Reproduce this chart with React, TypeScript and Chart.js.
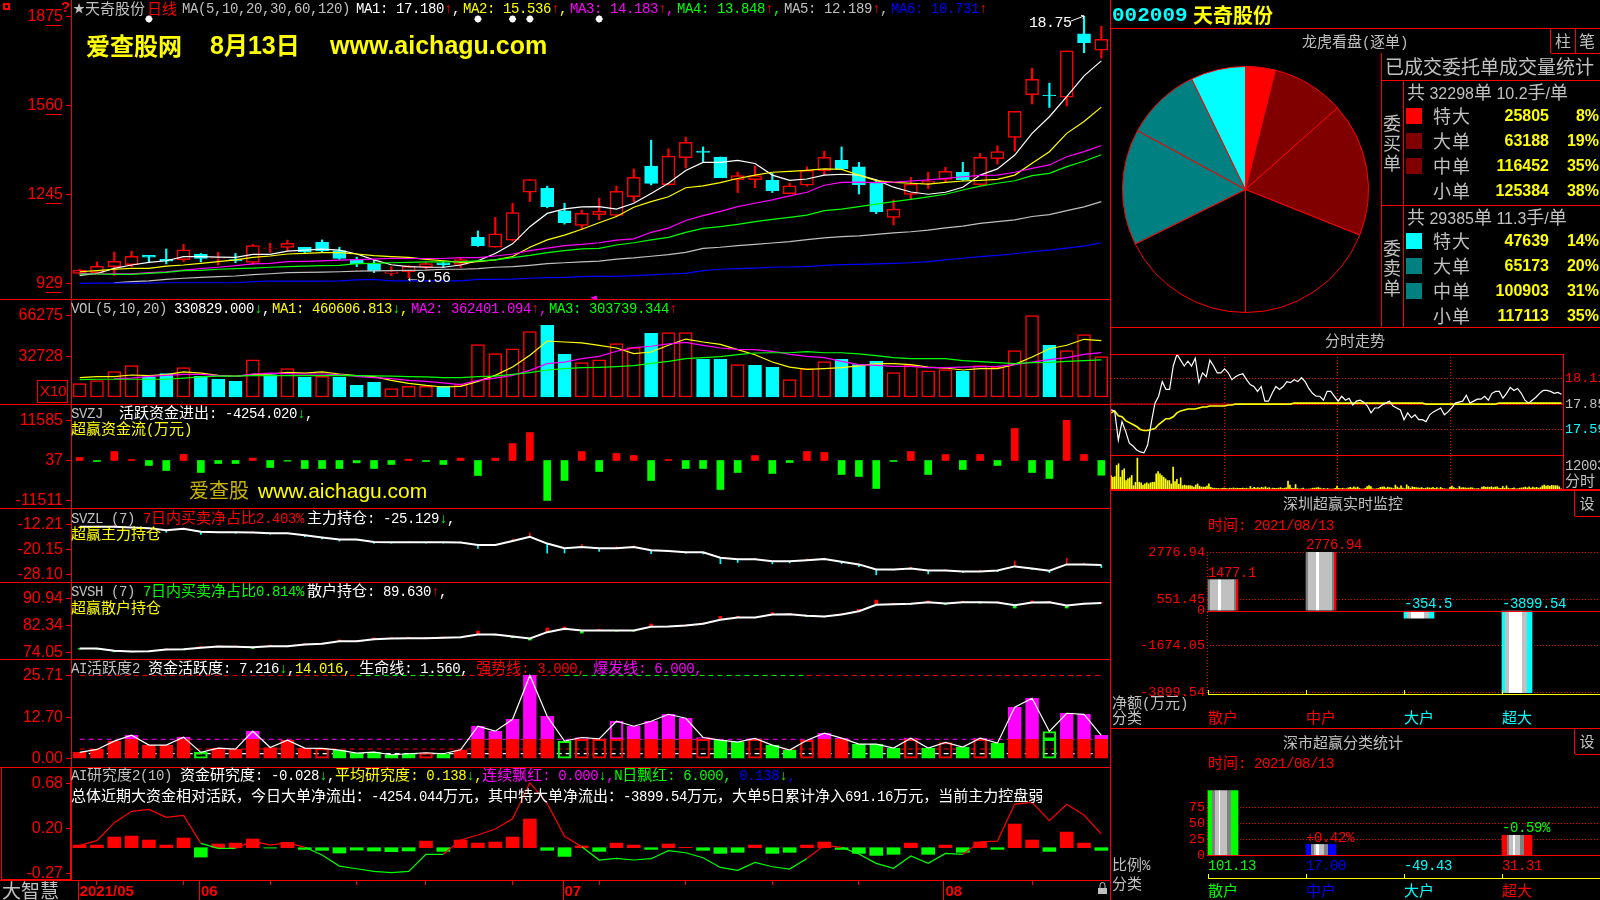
import React, { useEffect, useRef } from "react";
import { Chart, registerables } from "chart.js";
Chart.register(...registerables);

const MONO = '"Liberation Mono"';
const SANS = '"Liberation Sans"';
const CJK = '"Noto Sans CJK SC"';
const RED = "#ff0000";
const CYAN = "#00ffff";
const GREEN = "#00ff00";
const YELLOW = "#ffff00";
const MAGENTA = "#ff00ff";
const GREY = "#c0c0c0";
const WHITE = "#ffffff";
const BLUE = "#0000ff";

// ---------- daily data ----------
const dates = ["5/21","5/24","5/25","5/26","5/27","5/28","5/31","6/1","6/2","6/3","6/4","6/7","6/8","6/9","6/10","6/11","6/15","6/16","6/17","6/18","6/21","6/22","6/23","6/24","6/25","6/28","6/29","6/30","7/1","7/2","7/5","7/6","7/7","7/8","7/9","7/12","7/13","7/14","7/15","7/16","7/19","7/20","7/21","7/22","7/23","7/26","7/27","7/28","7/29","7/30","8/2","8/3","8/4","8/5","8/6","8/9","8/10","8/11","8/12","8/13"];
const monthIdx = [0, 7, 28, 50];
const monthLabels = ["2021/05", "06", "07", "08"];
const mondayIdx = [1, 6, 11, 16, 20, 25, 30, 35, 40, 45, 55];

const opens = [964,967,988,995,1028,1014,1013,1032,1017,1013,1003,1053,1056,1057,1074,1045,1013,998,964,970,986,1002,996,1092,1057,1082,1252,1266,1186,1134,1173,1170,1236,1345,1279,1375,1398,1377,1297,1297,1294,1247,1277,1329,1365,1342,1288,1163,1244,1285,1298,1323,1279,1371,1447,1598,1597,1589,1814,1756];
const highs = [979,1005,1040,1043,1028,1051,1067,1035,1039,1035,1067,1071,1082,1057,1083,1057,1022,1012,988,992,1005,1007,1020,1115,1163,1213,1297,1274,1213,1189,1231,1274,1335,1437,1406,1448,1413,1377,1324,1345,1319,1285,1342,1398,1413,1358,1296,1225,1305,1323,1341,1358,1390,1417,1539,1692,1639,1754,1877,1841];
const lows = [962,964,957,988,1002,998,1006,1005,994,1002,996,1039,1045,1035,1041,1014,988,967,956,949,979,986,985,1060,1057,1079,1219,1197,1139,1121,1154,1166,1218,1278,1277,1338,1357,1304,1251,1268,1251,1247,1274,1313,1333,1246,1176,1136,1227,1265,1288,1294,1277,1352,1398,1565,1553,1558,1747,1728];
const closes = [976,989,1007,1025,1022,1008,1048,1017,1018,1009,1063,1054,1071,1041,1045,1017,998,973,970,989,999,995,1013,1063,1105,1180,1297,1201,1144,1177,1184,1255,1305,1283,1380,1429,1393,1304,1311,1311,1258,1275,1330,1376,1335,1279,1182,1192,1281,1291,1326,1297,1376,1396,1539,1653,1595,1754,1783,1795];
const ma1 = [957,964,982,994,1003,1009,1024,1024,1022,1021,1032,1032,1043,1047,1050,1047,1033,1012,995,988,986,986,994,1009,1035,1069,1130,1177,1193,1200,1201,1192,1213,1248,1284,1329,1358,1358,1365,1354,1313,1294,1299,1313,1316,1313,1296,1270,1253,1245,1252,1270,1313,1335,1384,1461,1520,1591,1665,1718];
const ma2 = [970,974,979,982,982,990,994,1000,1006,1012,1021,1026,1033,1035,1038,1038,1033,1027,1024,1021,1014,1009,1003,1006,1012,1024,1057,1083,1100,1121,1144,1166,1199,1219,1236,1268,1275,1286,1301,1313,1323,1326,1330,1335,1333,1313,1293,1287,1284,1281,1287,1292,1294,1298,1313,1355,1396,1461,1503,1554];
const ma3 = [964,962,963,963,967,970,976,981,986,992,998,1000,1006,1007,1009,1011,1013,1015,1018,1017,1017,1017,1020,1020,1026,1033,1045,1054,1063,1067,1073,1082,1087,1110,1125,1152,1169,1184,1201,1213,1225,1239,1252,1277,1287,1288,1286,1288,1292,1296,1301,1307,1312,1313,1323,1337,1349,1378,1396,1418];
const ma4 = [962,962,961,961,964,968,974,975,979,981,983,986,988,990,992,993,999,1000,1002,1003,1005,1005,1006,1009,1012,1020,1028,1038,1045,1051,1053,1065,1073,1083,1092,1110,1124,1130,1138,1148,1156,1163,1171,1187,1192,1201,1210,1219,1227,1236,1245,1260,1274,1284,1293,1311,1319,1343,1362,1385];
const ma5 = [null,null,931,935,938,943,947,950,953,955,960,963,967,968,969,970,972,973,974,975,976,979,979,981,986,988,993,999,1002,1005,1008,1015,1019,1025,1031,1039,1053,1057,1063,1067,1072,1077,1084,1090,1095,1097,1103,1108,1112,1118,1126,1132,1142,1148,1154,1166,1173,1187,1200,1219];
const ma6 = [929,930,930,930,930,931,931,931,931,931,935,937,937,937,937,938,941,943,938,938,938,938,938,943,943,944,947,949,950,953,954,954,956,959,962,964,974,979,981,983,986,987,988,993,995,996,998,1000,1002,1006,1012,1018,1024,1028,1034,1041,1047,1054,1061,1073];
const starIdx = [4, 23, 25, 26, 30];
const starLevel = 1867;

const volumes = [10900,13400,20700,25600,16400,19100,24000,16900,14500,12800,30500,18300,23200,16100,16900,16100,9500,12000,6800,8700,8700,8700,10100,42800,35500,39500,53500,58600,34900,28100,30500,43600,40400,52100,52600,52600,30800,30800,26500,25900,24300,14200,23200,28900,30800,26500,29200,19900,25900,21500,22400,21000,25600,24500,37900,66500,42300,37900,51000,33000];
const volDownIdx = [4,5,7,8,9,11,13,15,16,17,21,27,28,33,36,37,39,40,44,45,46,51,56];
const volMa1 = [15800,16600,16600,18000,17500,18300,20500,19600,17700,16900,18500,18800,20200,19600,20500,18800,17500,16600,13600,11200,9500,8200,8700,12800,17700,24500,34100,45800,45000,44200,42300,40100,35500,36800,42300,47400,45000,43100,38700,34600,28600,24500,22600,23200,24000,25400,27300,27300,26500,24500,23700,22100,23200,23200,26700,32700,39500,42300,47200,46100];
const volMa2 = [null,null,15000,15500,16900,17700,18500,18500,17500,16900,18800,19600,19100,18800,18800,18300,16900,15800,15000,13600,12800,11500,10100,13600,15500,17700,21800,27300,28600,31400,33300,37400,40400,41500,43400,44700,42300,40100,39000,38700,37400,34900,33300,32200,29200,26500,25900,25100,25100,24000,24000,24500,24800,25100,26500,28600,30500,32200,34900,36240];
const volMa3 = [14200,14500,14500,14500,14500,14500,15500,16400,17000,17000,17500,17500,17500,17500,17500,17700,17500,17200,17000,16600,16400,15800,15800,16600,17000,18500,19900,22100,23200,24000,24300,24800,25600,27500,29200,31400,32200,33000,34600,36000,36200,36200,37100,36200,36200,35200,33800,32200,31400,31400,31400,29700,28900,28100,27300,28100,28400,29200,29700,30370];

const svzj = [870,-290,2600,290,-1440,-2890,1730,-3460,-870,-870,670,-2020,-190,-2310,-2310,-2310,-670,-2310,-1150,380,-290,-1150,670,-4330,670,4910,8080,-11540,-5770,2600,-3170,2020,1440,-5770,290,-2310,-2310,-8370,-3460,1440,-3750,-580,2600,2310,-4040,-4620,-8080,-290,2600,-4040,1730,-2600,1730,-1440,9235,-3460,-5190,11585,1730,-4254];
const svzl = [-13.06,-13.06,-13.06,-13.27,-13.48,-14.12,-13.69,-14.65,-14.75,-14.75,-14.86,-15.07,-15.07,-15.70,-16.45,-17.08,-17.08,-17.82,-17.93,-17.93,-17.93,-17.93,-18.03,-18.78,-18.78,-17.51,-16.23,-18.35,-19.83,-19.41,-19.83,-19.83,-19.41,-20.47,-20.68,-21.11,-21.11,-22.80,-23.33,-23.33,-23.96,-23.96,-23.65,-23.22,-24.07,-24.92,-26.51,-26.51,-26.19,-26.82,-26.82,-27.14,-27.14,-26.82,-25.55,-26.19,-26.93,-24.92,-24.92,-25.13];
const svzlDelta = [.1,.2,.4,.1,-.1,-.7,.2,-.8,-.1,-.4,.3,-.3,-.1,-.5,-.4,-.5,-.2,-.5,-.3,.2,-.3,-.3,.2,-1.1,.2,.6,1.3,-3.0,-1.5,.8,-1.0,.5,.4,-1.1,.3,-.3,-.5,-1.9,-1.0,.4,-.8,-.5,.5,.3,-.6,-.7,-1.7,-.2,.4,-1.1,.3,-.4,.4,-.4,1.7,-.4,-.6,2.0,.4,-.8];
const svsh = [75.21,75.21,74.47,74.26,74.37,74.89,75.0,75.42,75.84,75.74,75.63,75.95,75.95,76.48,76.69,77.53,77.53,78.16,78.38,78.48,78.48,78.59,78.80,79.64,79.64,79.01,78.38,80.38,81.44,80.91,80.91,80.91,80.91,82.07,82.17,82.49,83.02,84.28,85.02,85.02,85.97,86.08,85.55,85.34,85.97,87.03,89.03,89.24,89.35,89.88,89.45,89.88,89.88,89.77,88.93,89.77,89.88,88.82,89.35,89.63];
const svshDelta = [-.2,-.2,-.3,-.1,0,.2,-.2,.4,.2,.3,-.4,.3,-.2,.3,.2,.4,.2,.4,.3,.3,.2,.3,-.2,1.1,-.2,-.4,-.5,1.3,.6,-.8,.4,-.2,-.2,.9,.1,.2,.3,1.1,.4,-.1,.6,.2,-.2,-.1,.3,.6,1.5,.3,-.1,.4,-.3,.3,-.3,.2,-.9,.5,.2,-.8,.2,.1];
const activity = [1.95,2.87,5.43,7.27,4.20,4.20,6.66,1.95,3.28,2.97,8.50,3.48,5.73,3.28,3.17,2.66,1.74,2.05,1.23,1.54,1.84,1.54,2.76,10.04,8.50,12.19,25.71,13.11,5.43,6.55,6.14,11.57,10.04,11.57,13.72,12.49,6.55,5.73,5.12,6.25,4.20,2.66,5.73,7.88,6.35,4.51,4.51,3.28,6.35,3.28,5.02,3.58,6.35,4.81,15.87,18.64,8.40,14.03,13.72,7.22];
const activityKinds = "rrrrrrrGrrrrrrRgggggRgrrrrrrGRRRrrrrRggRggRrrgggRgRgRgrrGrrr";
const burstLine = 6;
const strongLine = 3;
const lifeLine = 1.56;
const ceilingLine = 25.71;
const ceilingGreenSpans = [[16, 22], [28, 42]];
const research = [.028,.028,.113,.123,.081,.028,.102,-.099,.039,.049,.092,-.004,.056,-.018,-.028,-.056,-.025,-.035,-.042,-.035,.070,-.039,.081,.049,.060,.113,.303,-.028,-.092,.018,-.039,.049,.028,-.018,.039,.004,-.028,-.060,-.049,.028,-.060,-.049,.028,.060,-.018,-.060,-.081,-.070,.049,-.070,.028,-.049,.060,-.018,.250,.081,-.039,.165,.049,-.028];
const researchTrend = [.025,.074,.264,.384,.405,.320,.341,.046,-.007,-.007,.070,.028,.053,.004,-.077,-.194,-.222,-.250,-.264,-.250,-.070,-.070,.081,.134,.197,.306,.686,.468,.120,.011,-.130,-.113,-.130,-.116,-.032,-.053,-.106,-.208,-.239,-.155,-.201,-.225,-.113,.025,.004,-.067,-.165,-.218,-.088,-.165,-.060,-.070,.063,.070,.461,.479,.285,.458,.345,.144];

// ---------- pie and table ----------
const pieLabels = ["买特大","买大单","买中单","买小单","卖小单","卖中单","卖大单","卖特大"];
const pieValues = [25805,63188,116452,125384,117113,100903,65173,47639];
const pieColors = [RED,"#800000","#800000","#000000","#000000","#008080","#008080",CYAN];
const orderKinds = ["特大","大单","中单","小单"];
const buyVolumes = ["25805","63188","116452","125384"];
const buyPcts = ["8%","19%","35%","38%"];
const sellVolumes = ["47639","65173","100903","117113"];
const sellPcts = ["14%","20%","31%","35%"];

// ---------- intraday ----------
const intradayPrice = [17.79,17.78,17.48,17.67,17.57,17.45,17.42,17.38,17.36,17.35,17.43,17.66,17.86,17.93,18.08,18.00,18.00,18.24,18.36,18.30,18.24,18.29,18.24,18.32,18.07,18.17,18.13,18.30,18.24,18.17,18.17,18.21,18.17,18.10,18.13,18.15,18.16,18.10,18.05,18.03,17.98,18.03,17.88,17.88,17.96,18.03,18.00,18.03,18.08,18.07,18.10,18.08,18.12,18.08,18.01,17.96,17.93,17.93,17.89,17.98,17.98,17.93,17.88,17.93,17.89,17.91,17.84,17.88,17.89,17.87,17.83,17.76,17.81,17.81,17.84,17.86,17.88,17.83,17.81,17.79,17.69,17.76,17.71,17.74,17.69,17.69,17.67,17.74,17.77,17.79,17.81,17.74,17.77,17.81,17.86,17.87,17.88,17.94,17.86,17.88,17.90,17.90,17.93,17.89,17.96,17.98,17.98,17.91,17.96,18.02,17.99,18.01,17.96,17.89,17.86,17.89,17.92,17.96,17.99,17.99,17.98,17.96,17.97,17.95];
const intradayAvg = [17.76,17.78,17.73,17.72,17.68,17.66,17.64,17.62,17.59,17.58,17.58,17.59,17.60,17.64,17.67,17.70,17.70,17.72,17.76,17.78,17.79,17.80,17.80,17.80,17.81,17.82,17.82,17.83,17.83,17.83,17.83,17.83,17.84,17.84,17.85,17.85,17.85,17.85,17.85,17.85,17.85,17.85,17.85,17.85,17.85,17.85,17.85,17.85,17.85,17.85,17.86,17.86,17.86,17.86,17.86,17.86,17.86,17.86,17.86,17.86,17.86,17.86,17.86,17.86,17.86,17.86,17.86,17.86,17.86,17.86,17.86,17.86,17.86,17.86,17.86,17.86,17.86,17.86,17.86,17.86,17.86,17.86,17.86,17.86,17.86,17.86,17.85,17.85,17.85,17.85,17.85,17.85,17.85,17.85,17.85,17.85,17.85,17.85,17.85,17.85,17.85,17.85,17.85,17.85,17.85,17.85,17.86,17.86,17.86,17.86,17.86,17.86,17.86,17.86,17.86,17.86,17.86,17.86,17.86,17.86,17.86,17.86,17.86,17.86];
const intradayVol = [4800,4200,4400,8400,9000,4200,6600,7200,3000,3600,4000,4800,1200,2400,11000,2400,2200,1400,1800,2200,1800,2200,2400,2400,5400,6200,5400,4800,4200,3600,3000,3000,1800,7800,2600,3400,1700,4000,1200,1400,1200,1200,1200,1000,700,1400,1800,1000,700,700,700,1000,1800,600,300,300,200,200,100,200,300,200,100,300,200,400,200,300,200,200,300,200,300,100,900,200,600,300,500,300,600,400,800,300,500,100,300,200,200,300,500,200,300,400,2800,1400,300,200,1600,200,0,100,300,0,0,0,100,300,300,400,500,300,100,200,0,200,0,0,0,200,1000,200,100,300,100,100,400,600,300,800,400,700,200,0,0,300,900,1200,900,100,0,100,200,600,700,800,300,700,500,400,200,1400,700,300,1100,300,100,1500,900,300,800,600,500,400,300,500,200,300,500,400,300,600,200,500,100,600,200,100,0,0,600,1000,500,200,100,900,400,500,400,300,300,500,400,100,100,200,0,700,900,600,700,600,800,500,700,800,300,200,900,300,1100,300,100,200,400,100,100,300,400,500,700,400,800,300,700,400,600,300,500,1100,1400,1000,1200,1000,1300,1200,1200,1200,800,100];
const intradayTicks = [18.11, 17.85, 17.59];
const intradayTickColors = [RED, GREY, CYAN];
const intradayGrid = [60, 120, 180];
const minutesPerReading = 1.945;

// ---------- net amount / ratio ----------
const traderKinds = ["散户","中户","大户","超大"];
const netAmount = [1477.1, 2776.94, -354.5, -3899.54];
const netTicks = [2776.94, 551.45, 0, -1674.05, -3899.54];
const ratioValues = [101.13, 17.0, -49.43, 31.31];
const ratioTicks = [75, 50, 25, 0];

const netBands = [
  [[.06,"#808080"],[.34,GREY],[.45,WHITE],[.87,GREY],[.94,"#808080"],[1,RED]],
  [[.06,"#808080"],[.34,GREY],[.45,WHITE],[.87,GREY],[.94,"#808080"],[1,RED]],
  [[.1,CYAN],[.23,GREY],[.67,WHITE],[.84,GREY],[1,CYAN]],
  [[.11,CYAN],[.24,GREY],[.67,WHITE],[.83,GREY],[1,CYAN]],
];
const ratioBands = [
  [[.13,GREEN],[.25,"#808080"],[.37,GREY],[.41,WHITE],[.62,GREY],[.77,"#808080"],[1,GREEN]],
  [[.18,BLUE],[.27,"#808080"],[.33,GREY],[.43,WHITE],[.6,GREY],[.74,"#808080"],[1,BLUE]],
  [[1,CYAN]],
  [[.18,RED],[.25,"#808080"],[.38,GREY],[.45,WHITE],[.6,GREY],[.73,"#808080"],[1,RED]],
];

// ---------- chart helpers ----------
const baseOptions = (scales: any) => ({
  responsive: false,
  animation: false,
  devicePixelRatio: 1,
  events: [],
  layout: { padding: 0, autoPadding: false },
  plugins: { legend: { display: false }, tooltip: { enabled: false } },
  scales,
});
const xHidden = { type: "category", labels: dates, offset: true, display: false };
const fixedTicks = (vals: number[]) => (s: any) => {
  s.ticks = vals.map((value) => ({ value }));
};
const yLeft = (min: number, max: number, vals: number[], labels: string[]) => ({
  type: "linear",
  min,
  max,
  position: "left",
  afterFit: (s: any) => {
    s.width = 71;
    s.paddingTop = 0;
    s.paddingBottom = 0;
  },
  afterBuildTicks: fixedTicks(vals),
  ticks: {
    autoSkip: false,
    color: RED,
    padding: 3,
    font: { family: SANS, size: 16 },
    callback: (v: number) => labels[vals.indexOf(v)] ?? "",
  },
  grid: { drawOnChartArea: false, color: RED, tickLength: 5 },
  border: { color: RED },
});
const lineDs = (data: any[], color: string, width = 1.2, extra: any = {}) => ({
  type: "line",
  data,
  borderColor: color,
  borderWidth: width,
  pointRadius: 0,
  tension: 0,
  order: 0,
  ...extra,
});
const isUp = (i: number) => closes[i] >= opens[i];

const mainConfig = () => ({
  type: "bar",
  data: {
    labels: dates,
    datasets: [
      lineDs(ma6, BLUE),
      lineDs(ma5, GREY),
      lineDs(ma4, GREEN),
      lineDs(ma3, MAGENTA),
      lineDs(ma2, YELLOW),
      lineDs(ma1, WHITE),
      {
        type: "line",
        showLine: false,
        data: dates.map((_, i) => (starIdx.includes(i) ? starLevel : null)),
        pointStyle: "star",
        pointRadius: 3.5,
        pointBorderColor: WHITE,
        pointBorderWidth: 2,
        order: 0,
      },
      {
        data: dates.map((_, i) => [opens[i], closes[i]]),
        barThickness: 13,
        grouped: false,
        borderSkipped: false,
        borderWidth: 1.5,
        backgroundColor: dates.map((_, i) => (isUp(i) ? "#000000" : CYAN)),
        borderColor: dates.map((_, i) => (isUp(i) ? RED : CYAN)),
        order: 2,
      },
      {
        data: dates.map((_, i) => [lows[i], highs[i]]),
        barThickness: 1.5,
        grouped: false,
        backgroundColor: dates.map((_, i) => (isUp(i) ? RED : CYAN)),
        order: 3,
      },
    ],
  },
  options: baseOptions({ x: xHidden, y: yLeft(873.4, 1934.1, [1875, 1560, 1245, 929], ["1875", "1560", "1245", "929"]) }),
});

const volConfig = () => ({
  type: "bar",
  data: {
    labels: dates,
    datasets: [
      lineDs(volMa3, GREEN),
      lineDs(volMa2, MAGENTA),
      lineDs(volMa1, YELLOW),
      {
        data: volumes,
        barThickness: 13,
        grouped: false,
        borderSkipped: false,
        borderWidth: 1.5,
        backgroundColor: dates.map((_, i) => (volDownIdx.includes(i) ? CYAN : "#000000")),
        borderColor: dates.map((_, i) => (volDownIdx.includes(i) ? CYAN : RED)),
        order: 2,
      },
    ],
  },
  options: baseOptions({ x: xHidden, y: yLeft(-5726, 80164, [66275, 32728], ["66275", "32728"]) }),
});

const svzjConfig = () => ({
  type: "bar",
  data: {
    labels: dates,
    datasets: [
      {
        data: svzj,
        barThickness: 7,
        backgroundColor: svzj.map((v) => (v >= 0 ? RED : GREEN)),
      },
    ],
  },
  options: baseOptions({ x: xHidden, y: yLeft(-13710, 16310, [11585, 37, -11511], ["11585", "37", "-11511"]) }),
});

const holdingConfig = (
  values: number[],
  deltas: number[],
  upColor: string,
  downColor: string,
  thickness: number,
  min: number,
  max: number,
  vals: number[],
  labels: string[],
) => ({
  type: "bar",
  data: {
    labels: dates,
    datasets: [
      lineDs(values, WHITE, 2),
      {
        data: values.map((v, i) => [v, v + deltas[i]]),
        barThickness: thickness,
        grouped: false,
        backgroundColor: deltas.map((d) => (d >= 0 ? upColor : downColor)),
        order: 2,
      },
    ],
  },
  options: baseOptions({ x: xHidden, y: yLeft(min, max, vals, labels) }),
});

const kindMain = (k: string) => (k === "r" || k === "R" ? RED : GREEN);
const isHollow = (k: string) => k === "R" || k === "G";
const kinds = activityKinds.split("");

const activityConfig = () => ({
  type: "bar",
  data: {
    labels: dates,
    datasets: [
      lineDs(activity, WHITE, 1.2),
      lineDs(dates.map(() => lifeLine), WHITE, 1.2, { borderDash: [5, 4], order: 3 }),
      lineDs(dates.map(() => strongLine), RED, 1, { borderDash: [5, 4], order: 3 }),
      lineDs(dates.map(() => burstLine), MAGENTA, 1, { borderDash: [5, 4], order: 3 }),
      lineDs(dates.map(() => ceilingLine), RED, 1, {
        borderDash: [5, 4],
        order: 3,
        segment: {
          borderColor: (c: any) =>
            ceilingGreenSpans.some(([a, b]) => c.p0DataIndex >= a && c.p0DataIndex < b) ? GREEN : RED,
        },
      }),
      {
        data: activity.map((v) => [0, Math.min(v, burstLine)]),
        barThickness: 13,
        grouped: false,
        borderSkipped: false,
        borderWidth: 1.5,
        backgroundColor: kinds.map((k) => (isHollow(k) ? "transparent" : kindMain(k))),
        borderColor: kinds.map((k) => kindMain(k)),
        order: 2,
      },
      {
        data: activity.map((v) => (v > burstLine ? [burstLine, v] : null)),
        barThickness: 13,
        grouped: false,
        borderSkipped: false,
        borderWidth: 1.5,
        backgroundColor: kinds.map((k) => (isHollow(k) ? "transparent" : MAGENTA)),
        borderColor: kinds.map((k) => (k === "G" ? GREEN : MAGENTA)),
        order: 2,
      },
    ],
  },
  options: baseOptions({ x: xHidden, y: yLeft(-2.55, 30.47, [25.71, 12.7, 0], ["25.71", "12.70", "0.00"]) }),
});

const monthLinePlugin = {
  id: "monthLines",
  afterDraw(chart: any) {
    const { ctx, chartArea, scales, height } = chart;
    ctx.save();
    ctx.strokeStyle = RED;
    ctx.lineWidth = 1;
    monthIdx.forEach((i) => {
      const x = Math.round(scales.x.getPixelForValue(i)) - 1.5;
      ctx.beginPath();
      ctx.moveTo(x, chartArea.bottom);
      ctx.lineTo(x, height);
      ctx.stroke();
    });
    ctx.restore();
  },
};

const researchConfig = () => ({
  type: "bar",
  data: {
    labels: dates,
    datasets: [
      lineDs(researchTrend, RED, 1.2, {
        segment: { borderColor: (c: any) => (c.p1.parsed.y >= 0 ? RED : GREEN) },
      }),
      {
        data: research,
        barThickness: 13,
        backgroundColor: research.map((v) => (v >= 0 ? RED : GREEN)),
        order: 2,
      },
    ],
  },
  options: baseOptions({
    x: {
      type: "category",
      labels: dates,
      offset: true,
      afterFit: (s: any) => {
        s.height = 20;
        s.paddingLeft = 0;
        s.paddingRight = 0;
      },
      grid: {
        offset: false,
        drawOnChartArea: false,
        tickLength: 5,
        tickColor: (c: any) => (mondayIdx.includes(c.index) ? RED : "transparent"),
      },
      border: { color: RED },
      ticks: {
        autoSkip: false,
        maxRotation: 0,
        minRotation: 0,
        align: "start",
        color: RED,
        padding: -2,
        font: { family: SANS, size: 15, weight: "bold" },
        callback: (_: any, i: number) => {
          const m = monthIdx.indexOf(i);
          return m >= 0 ? monthLabels[m] : "";
        },
      },
    },
    y: yLeft(-0.341, 0.852, [0.68, 0.2, -0.27], ["0.68", "0.20", "-0.27"]),
  }),
  plugins: [monthLinePlugin],
});

const pieConfig = () => ({
  type: "pie",
  data: {
    labels: pieLabels,
    datasets: [{ data: pieValues, backgroundColor: pieColors, borderColor: RED, borderWidth: 1 }],
  },
  options: { ...baseOptions({}), radius: "100%" },
});

const intradayConfig = () => ({
  type: "bar",
  data: {
    datasets: [
      lineDs(intradayPrice.map((y, i) => ({ x: i * minutesPerReading, y })), WHITE, 1.2),
      lineDs(intradayAvg.map((y, i) => ({ x: i * minutesPerReading, y })), YELLOW, 1.6),
      lineDs([{ x: 0, y: 17.85 }, { x: 240, y: 17.85 }], RED, 1, { order: 1 }),
      {
        data: intradayVol.map((y, i) => ({ x: i, y })),
        yAxisID: "yv",
        barThickness: 1,
        backgroundColor: YELLOW,
        order: 2,
      },
    ],
  },
  options: baseOptions({
    x: {
      type: "linear",
      min: 0,
      max: 240,
      offset: false,
      afterBuildTicks: fixedTicks(intradayGrid),
      afterFit: (s: any) => {
        s.height = 0;
        s.paddingLeft = 0;
        s.paddingRight = 0;
      },
      ticks: { display: false },
      grid: { offset: false, color: RED, drawTicks: false, tickLength: 0 },
      border: { display: false, dash: [1, 2] },
    },
    y: {
      type: "linear",
      position: "right",
      min: 16.98,
      max: 18.363,
      afterBuildTicks: fixedTicks(intradayTicks),
      afterFit: (s: any) => {
        s.width = 37;
        s.paddingTop = 0;
        s.paddingBottom = 0;
      },
      ticks: {
        autoSkip: false,
        padding: 2,
        font: { family: MONO, size: 13.5 },
        color: (c: any) => intradayTickColors[intradayTicks.indexOf(c.tick.value)] ?? GREY,
        callback: (v: number) => v.toFixed(2),
      },
      grid: { color: RED, drawTicks: false, tickLength: 0 },
      border: { color: RED, dash: [1, 2] },
    },
    yv: { type: "linear", display: false, min: 0, max: 48076 },
  }),
});

const bandFill = (bands: any[], halfWidth: number) => (c: any) => {
  const chart = c.chart;
  const band = bands[c.dataIndex];
  if (!chart.chartArea || !band) return band ? band[band.length - 1][1] : RED;
  const px = chart.scales.x.getPixelForValue(c.dataIndex);
  const g = chart.ctx.createLinearGradient(px - halfWidth, 0, px + halfWidth, 0);
  let prev = 0;
  band.forEach(([end, color]: any) => {
    g.addColorStop(prev, color);
    g.addColorStop(end, color);
    prev = end;
  });
  return g;
};

const sideAxis = (min: number, max: number, vals: number[], fmt: (v: number) => string) => ({
  type: "linear",
  min,
  max,
  position: "left",
  afterBuildTicks: fixedTicks(vals),
  afterFit: (s: any) => {
    s.width = 96;
    s.paddingTop = 0;
    s.paddingBottom = 0;
  },
  ticks: { autoSkip: false, color: RED, padding: 2, font: { family: MONO, size: 13.5 }, callback: fmt },
  grid: { color: (c: any) => (c.tick && c.tick.value === 0 ? "transparent" : RED), drawTicks: false, tickLength: 0 },
  border: { display: false, dash: [1, 2] },
});
const sideX = { type: "linear", display: false, min: -0.163, max: 3.847, offset: false };

const netConfig = () => ({
  type: "bar",
  data: {
    datasets: [
      {
        data: netAmount.map((y, x) => ({ x, y })),
        barThickness: 30,
        backgroundColor: bandFill(netBands, 15),
      },
    ],
  },
  options: baseOptions({
    x: sideX,
    y: sideAxis(-4246, 4313, netTicks, (v) => (v === 0 ? "0" : v.toFixed(2))),
  }),
});

const ratioConfig = () => ({
  type: "bar",
  data: {
    datasets: [
      {
        data: ratioValues.map((y, x) => ({ x, y: y > 0 ? y : null })),
        barThickness: 30,
        backgroundColor: bandFill(ratioBands, 15),
      },
    ],
  },
  options: baseOptions({ x: sideX, y: sideAxis(-15.16, 117.7, ratioTicks, (v) => String(v)) }),
});

// ---------- drawing components ----------
function ChartBox({ left, top, width, height, build }: any) {
  const ref = useRef<HTMLCanvasElement | null>(null);
  useEffect(() => {
    const chart = new Chart(ref.current as any, build());
    return () => chart.destroy();
  }, []);
  return <canvas ref={ref} width={width} height={height} style={{ position: "absolute", left, top, width, height, display: "block" }} />;
}

const CJK_RE = /([\u2E80-\u9FFF\u3000-\u303F\uFF00-\uFFEF★]+)/;

function T({ x, y, t, c = GREY, s = 14, cs = 15, f = MONO, a = "l", ls = -0.4, cls = 0, w }: any) {
  const parts: any[] = typeof t === "string" ? [[t, c]] : t;
  const tr = a === "l" ? "translateY(-50%)" : a === "c" ? "translate(-50%,-50%)" : "translate(-100%,-50%)";
  return (
    <div style={{ position: "absolute", left: x, top: y, transform: tr, whiteSpace: "pre", lineHeight: 1, fontWeight: w }}>
      {parts.map(([txt, col]: any, i: number) => (
        <span key={i} style={{ color: col }}>
          {String(txt)
            .split(CJK_RE)
            .filter(Boolean)
            .map((run: string, j: number) =>
              CJK_RE.test(run) ? (
                <span key={j} style={{ fontFamily: CJK, fontSize: cs, letterSpacing: cls }}>{run}</span>
              ) : (
                <span key={j} style={{ fontFamily: f, fontSize: s, letterSpacing: ls }}>{run}</span>
              ),
            )}
        </span>
      ))}
    </div>
  );
}

const R = (x1: number, y1: number, x2: number, y2: number, color = RED, width = 1, dash?: string) => (
  <line
    key={`${x1}-${y1}-${x2}-${y2}-${color}`}
    x1={x1}
    y1={y1}
    x2={x2}
    y2={y2}
    stroke={color}
    strokeWidth={width}
    strokeDasharray={dash}
    shapeRendering="crispEdges"
  />
);

function Frame() {
  const xs = [1208, 1306, 1404, 1502];
  return (
    <svg width={1600} height={900} style={{ position: "absolute", left: 0, top: 0, pointerEvents: "none" }}>
      {[299, 404, 508, 582.5, 659.5, 767, 880].map((y) => R(0, y, 1110, y))}
      {R(1110.5, 0, 1110.5, 900)}
      {[25, 114, 203, 292].map((y) => R(46, y, 62, y))}
      <rect x={3.5} y={3.5} width={5} height={5} fill="none" stroke={RED} strokeWidth={2} shapeRendering="crispEdges" />
      <rect x={37.5} y={380.5} width={30} height={22} fill="none" stroke={RED} shapeRendering="crispEdges" />
      <rect x={1.5} y={767.5} width={69} height={112} fill="none" stroke={RED} shapeRendering="crispEdges" />
      {R(1110, 28, 1600, 28)}
      {R(1550.5, 28, 1550.5, 53)}
      {R(1575, 28, 1575, 53)}
      {R(1550.5, 53, 1600, 53)}
      {R(1381, 53, 1381, 327)}
      {R(1382, 80, 1600, 80)}
      {R(1403, 80, 1403, 327)}
      {R(1381, 205.5, 1600, 205.5)}
      {R(1110, 327, 1600, 327)}
      {R(1111, 354, 1563, 354)}
      {R(1111, 455, 1563, 455)}
      {R(1110, 490, 1600, 490, RED, 2)}
      {R(1574.5, 490, 1574.5, 516)}
      {R(1574.5, 516, 1600, 516)}
      {R(1110, 728.5, 1600, 728.5)}
      {R(1574.5, 728, 1574.5, 754)}
      {R(1574.5, 754, 1600, 754)}
      {R(1207, 552, 1207, 693, RED, 1, "1 2")}
      {R(1207, 790, 1207, 855, RED, 1, "1 2")}
      {R(1207, 611, 1600, 611)}
      {R(1207, 855.5, 1600, 855.5)}
      {R(1208, 694.5, 1600, 694.5, YELLOW)}
      {R(1208, 878.5, 1600, 878.5, YELLOW)}
      {xs.map((x) => R(x, 690, x, 694, YELLOW))}
      {xs.map((x) => R(x, 874, x, 878, YELLOW))}
      <line x1={1071} y1={21} x2={1084} y2={16} stroke={WHITE} />
      <line x1={1081} y1={15.5} x2={1084} y2={16} stroke={WHITE} />
      <line x1={1083} y1={19} x2={1084} y2={16} stroke={WHITE} />
      <rect x={1098} y={888} width={9} height={6} fill={GREY} />
      <path d="M1100 888 v-3 a2.5 2.5 0 0 1 5 0 v3" fill="none" stroke={GREY} />
    </svg>
  );
}

function Labels() {
  const rowX = 1433;
  const rowsBuy = [116, 141, 166, 191];
  const rowsSell = [241, 266, 291, 316];
  const valX = 1549;
  const pctX = 1599;
  const barXs = [1208, 1306, 1404, 1502];
  const ratioColors = [GREEN, BLUE, CYAN, RED];
  const netColors = [RED, RED, CYAN, CYAN];
  return (
    <>
      <T x={61} y={7} t="?" c={RED} f={SANS} s={15} w="bold" />
      <T x={73} y={8} t="★" cs={12} />
      <T x={85} y={8} t="天奇股份" cs={15} />
      <T x={147} y={8} t="日线" c={RED} cs={15} />
      <T x={182} y={8} t="MA(5,10,20,30,60,120)" />
      <T x={356} y={8} t={[["MA1: 17.180", WHITE], ["↑", RED], [",", WHITE]]} />
      <T x={463} y={8} t={[["MA2: 15.536", YELLOW], ["↑", RED], [",", YELLOW]]} />
      <T x={570} y={8} t={[["MA3: 14.183", MAGENTA], ["↑", RED], [",", MAGENTA]]} />
      <T x={677} y={8} t={[["MA4: 13.848", GREEN], ["↑", RED], [",", GREEN]]} />
      <T x={784} y={8} t={[["MA5: 12.189", GREY], ["↑", RED], [",", GREY]]} />
      <T x={891} y={8} t={[["MA6: 10.731", BLUE], ["↑", RED]]} />
      <T x={86} y={45} t="爱查股网" c={YELLOW} cs={24} w="bold" />
      <T x={210} y={45} t="8月13日" c={YELLOW} f={SANS} s={25} ls={0} cs={24} w="bold" />
      <T x={330} y={45} t="www.aichagu.com" c={YELLOW} f={SANS} s={25} ls={0} w="bold" />
      <T x={408} y={277} t="←9.56" c={WHITE} s={15} ls={-0.5} />
      <T x={1029} y={22} t="18.75" c={WHITE} s={15} ls={-0.5} />
      <T x={590} y={295} t="◄" c={MAGENTA} f={"DejaVu Sans"} s={9} />

      <T x={40} y={391} t="X10" c={RED} f={SANS} s={15} ls={0} />
      <T x={71} y={308} t="VOL(5,10,20)" />
      <T x={174} y={308} t={[["330829.000", WHITE], ["↓", GREEN], [",", WHITE]]} />
      <T x={272} y={308} t={[["MA1: 460606.813", YELLOW], ["↓", GREEN], [",", YELLOW]]} />
      <T x={411} y={308} t={[["MA2: 362401.094", MAGENTA], ["↑", RED], [",", MAGENTA]]} />
      <T x={549} y={308} t={[["MA3: 303739.344", GREEN], ["↑", RED]]} />
      <T x={71} y={412} t={[["SVZJ  ", GREY], ["活跃资金进出: -4254.020", WHITE], ["↓", GREEN], [",", WHITE]]} />
      <T x={71} y={428} t="超赢资金流(万元)" c={YELLOW} />
      <T x={189} y={490} t="爱查股" c="#c8b400" cs={20} />
      <T x={258} y={490} t="www.aichagu.com" c={YELLOW} f={SANS} s={21} ls={0} />
      <T x={71} y={517} t={[["SVZL (7) ", GREY], ["7日内买卖净占比2.403%", RED]]} />
      <T x={307} y={517} t={[["主力持仓: -25.129", WHITE], ["↓", GREEN], [",", WHITE]]} />
      <T x={71} y={533} t="超赢主力持仓" c={YELLOW} />
      <T x={71} y={590} t={[["SVSH (7) ", GREY], ["7日内买卖净占比0.814%", GREEN]]} />
      <T x={307} y={590} t={[["散户持仓: 89.630", WHITE], ["↑", RED], [",", WHITE]]} />
      <T x={71} y={607} t="超赢散户持仓" c={YELLOW} />
      <T x={71} y={667} t={[["AI活跃度2 ", GREY], ["资金活跃度: 7.216", WHITE], ["↓", GREEN], [",", WHITE], ["14.016, ", YELLOW], ["生命线: 1.560, ", WHITE], ["强势线: 3.000, ", RED], ["爆发线: 6.000,", MAGENTA]]} />
      <T x={71} y={774} t={[["AI研究度2(10) ", GREY], ["资金研究度: -0.028", WHITE], ["↓", GREEN], [",", WHITE], ["平均研究度: 0.138", YELLOW], ["↓", GREEN], [",", YELLOW], ["连续飘红: 0.000", MAGENTA], ["↓", GREEN], [",", MAGENTA], ["N日飘红: 6.000, ", GREEN], ["0.138", BLUE], ["↓", GREEN], [",", BLUE]]} />
      <T x={71} y={795} t="总体近期大资金相对活跃，今日大单净流出：-4254.044万元，其中特大单净流出：-3899.54万元，大单5日累计净入691.16万元，当前主力控盘弱" c={WHITE} />
      <T x={2} y={890} t="大智慧" cs={19} />

      <T x={1112} y={15} t="002009" c={CYAN} s={21} ls={0} w="bold" />
      <T x={1193} y={15} t="天奇股份" c={YELLOW} cs={20} w="bold" />
      <T x={1355} y={41} t="龙虎看盘(逐单)" cs={15} a="c" />
      <T x={1563} y={41} t="柱" cs={16} a="c" />
      <T x={1587} y={41} t="笔" cs={16} a="c" />
      <T x={1385} y={66} t="已成交委托单成交量统计" cs={19} />
      {["委", "买", "单"].map((t, i) => <T key={t} x={1392} y={123 + i * 20} t={t} cs={18} a="c" />)}
      {["委", "卖", "单"].map((t, i) => <T key={"s" + t} x={1392} y={248 + i * 20} t={t} cs={18} a="c" />)}
      <T x={1407} y={92} t="共 32298单 10.2手/单" f={SANS} s={16} ls={0} cs={18} />
      <T x={1407} y={217} t="共 29385单 11.3手/单" f={SANS} s={16} ls={0} cs={18} />
      {orderKinds.map((k, i) => (
        <React.Fragment key={k}>
          <T x={rowX} y={rowsBuy[i]} t={k} cs={18} cls={1} />
          <T x={valX} y={rowsBuy[i]} t={buyVolumes[i]} c={YELLOW} f={SANS} s={16} ls={0} a="r" w="bold" />
          <T x={pctX} y={rowsBuy[i]} t={buyPcts[i]} c={YELLOW} f={SANS} s={16} ls={0} a="r" w="bold" />
          <T x={rowX} y={rowsSell[i]} t={k} cs={18} cls={1} />
          <T x={valX} y={rowsSell[i]} t={sellVolumes[i]} c={YELLOW} f={SANS} s={16} ls={0} a="r" w="bold" />
          <T x={pctX} y={rowsSell[i]} t={sellPcts[i]} c={YELLOW} f={SANS} s={16} ls={0} a="r" w="bold" />
          {i < 3 && <div style={{ position: "absolute", left: 1406, top: rowsBuy[i] - 8, width: 16, height: 16, background: pieColors[i] }} />}
          {i < 3 && <div style={{ position: "absolute", left: 1406, top: rowsSell[i] - 8, width: 16, height: 16, background: [CYAN, "#008080", "#008080"][i] }} />}
        </React.Fragment>
      ))}

      <T x={1355} y={340} t="分时走势" cs={15} a="c" />
      <T x={1565} y={465} t="12003" />
      <T x={1565} y={480} t="分时" cs={15} />

      <T x={1343} y={503} t="深圳超赢实时监控" cs={15} a="c" />
      <T x={1587} y={503} t="设" cs={15} a="c" />
      <T x={1208} y={524} t="时间: 2021/08/13" c={RED} />
      <T x={1208} y={572} t="1477.1" c={RED} />
      <T x={1306} y={544} t="2776.94" c={RED} />
      <T x={1404} y={603} t="-354.5" c={CYAN} />
      <T x={1502} y={603} t="-3899.54" c={CYAN} />
      <T x={1112} y={702} t="净额(万元)" />
      <T x={1112} y={717} t="分类" />
      {traderKinds.map((k, i) => <T key={k} x={barXs[i]} y={717} t={k} c={netColors[i]} />)}

      <T x={1343} y={742} t="深市超赢分类统计" cs={15} a="c" />
      <T x={1587} y={741} t="设" cs={15} a="c" />
      <T x={1208} y={762} t="时间: 2021/08/13" c={RED} />
      <T x={1306} y={837} t="+0.42%" c={RED} />
      <T x={1502} y={827} t="-0.59%" c={GREEN} />
      {ratioValues.map((v, i) => <T key={i} x={barXs[i]} y={865} t={v.toFixed(2)} c={ratioColors[i]} />)}
      <T x={1112} y={864} t="比例%" />
      <T x={1112} y={883} t="分类" />
      {traderKinds.map((k, i) => <T key={"r" + k} x={barXs[i]} y={890} t={k} c={ratioColors[i]} />)}
    </>
  );
}

export default function App() {
  useEffect(() => {
    document.body.style.margin = "0";
    document.body.style.background = "#000";
  }, []);
  return (
    <div style={{ position: "fixed", left: 0, top: 0, width: 1600, height: 900, background: "#000", overflow: "hidden" }}>
      <ChartBox left={0} top={0} width={1110} height={299} build={mainConfig} />
      <ChartBox left={0} top={299} width={1110} height={105} build={volConfig} />
      <ChartBox left={0} top={404} width={1110} height={104} build={svzjConfig} />
      <ChartBox left={0} top={508} width={1110} height={75} build={() => holdingConfig(svzl, svzlDelta, RED, CYAN, 1, -30.79, -7.13, [-12.21, -20.15, -28.1], ["-12.21", "-20.15", "-28.10"])} />
      <ChartBox left={0} top={583} width={1110} height={77} build={() => holdingConfig(svsh, svshDelta, RED, GREEN, 3, 71.58, 95.94, [90.94, 82.34, 74.05], ["90.94", "82.34", "74.05"])} />
      <ChartBox left={0} top={660} width={1110} height={107} build={activityConfig} />
      <ChartBox left={0} top={767} width={1110} height={133} build={researchConfig} />
      <ChartBox left={1122} top={66} width={247} height={247} build={pieConfig} />
      <ChartBox left={1111} top={354} width={489} height={135} build={intradayConfig} />
      <ChartBox left={1111} top={520} width={489} height={180} build={netConfig} />
      <ChartBox left={1111} top={780} width={489} height={85} build={ratioConfig} />
      <Frame />
      <Labels />
    </div>
  );
}
